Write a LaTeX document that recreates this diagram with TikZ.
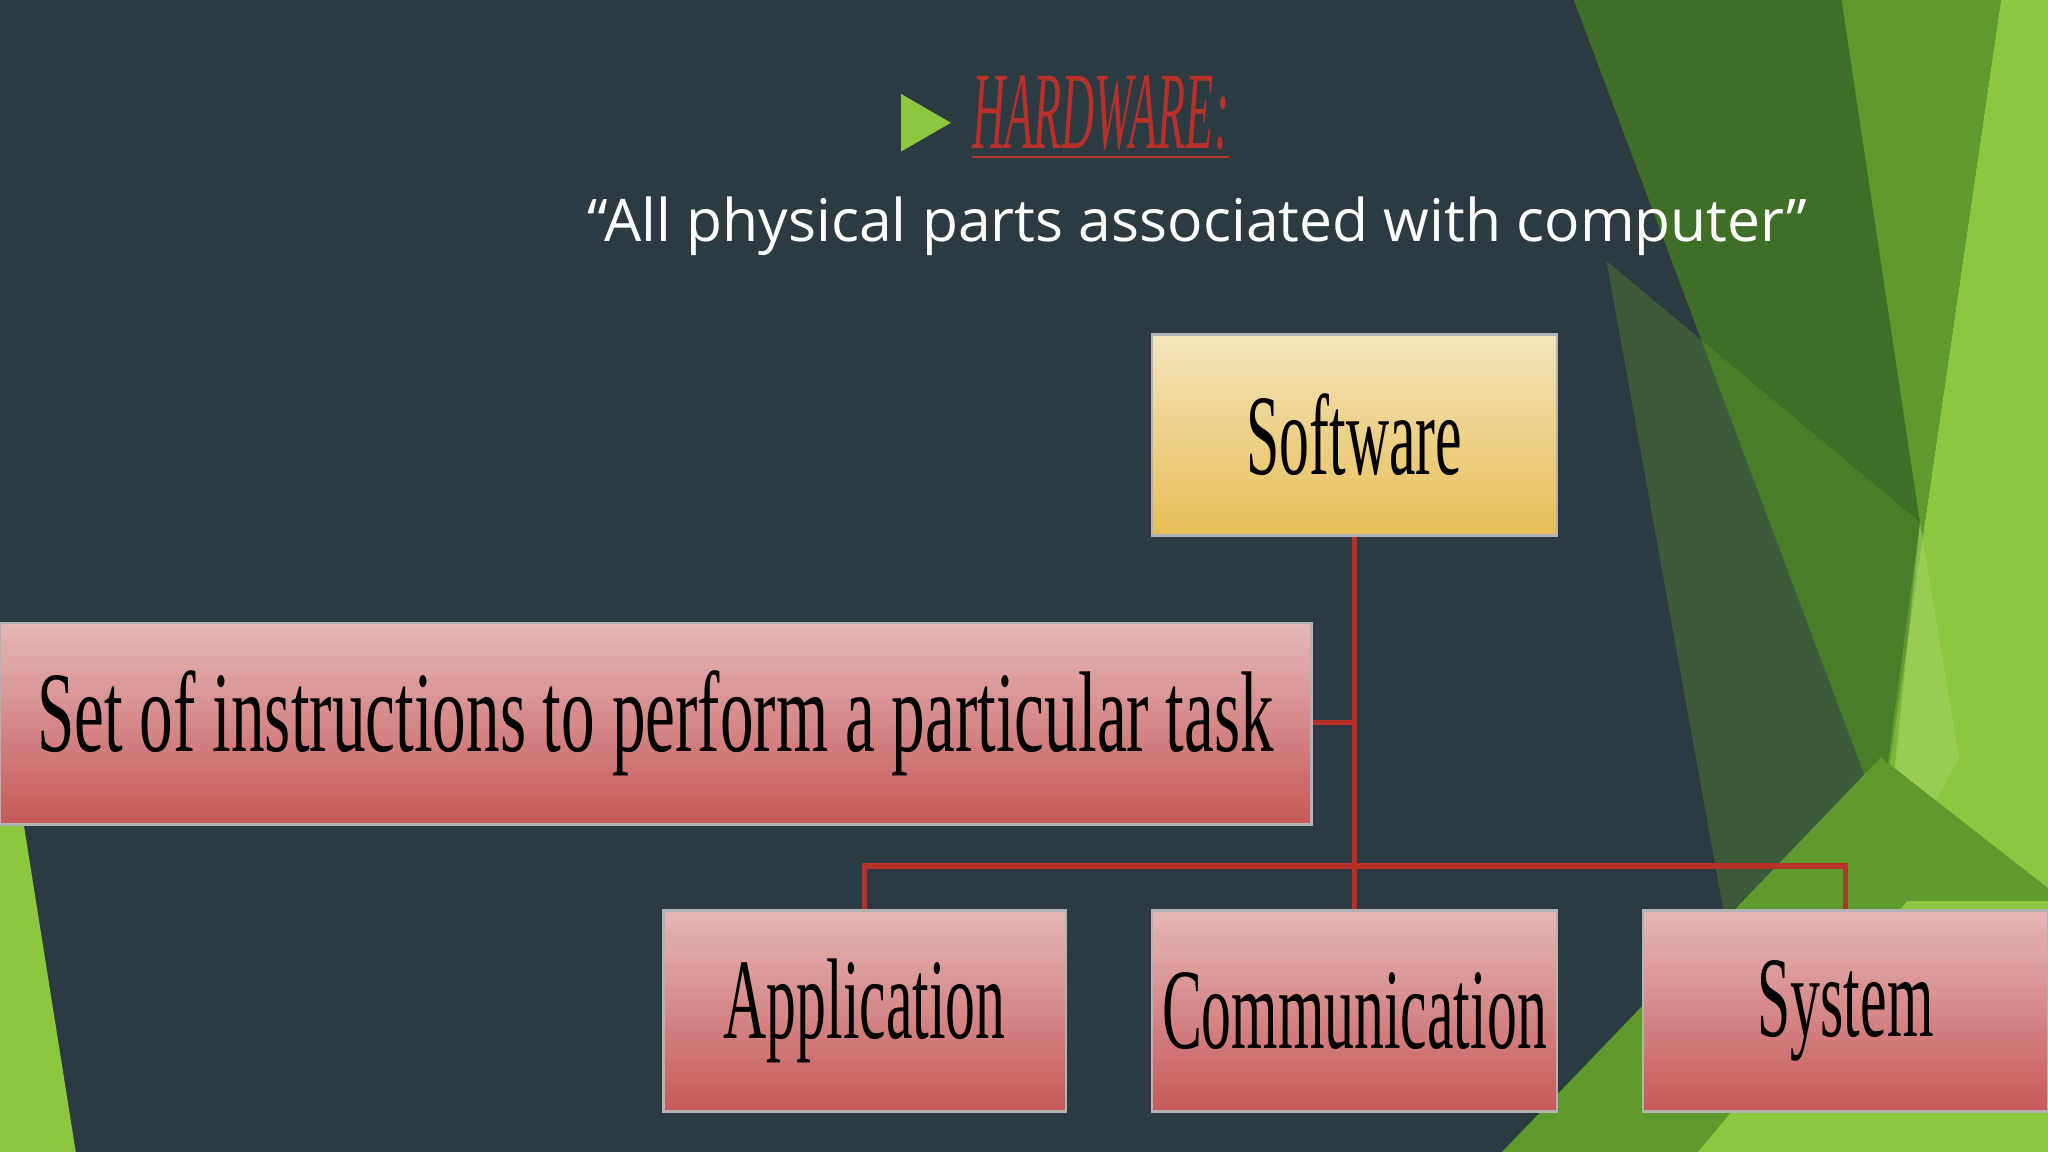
\documentclass[tikz,border=0pt]{standalone}
\usepackage{fontspec}
\setmainfont{Liberation Serif}
\newfontfamily\titlesans{Open Sans}
\usetikzlibrary{positioning}
\definecolor{bg}{HTML}{2C3A42}
\definecolor{dg}{HTML}{3F6E26}
\definecolor{mg}{HTML}{5E9A2E}
\definecolor{lg}{HTML}{8DC63F}
\definecolor{ln}{HTML}{B8302A}
\definecolor{pinkT}{HTML}{E6B8B8}
\definecolor{pinkB}{HTML}{C65858}
\definecolor{yelT}{HTML}{F3E4BA}
\definecolor{yelB}{HTML}{E8BE58}
\newcommand{\nt}[1]{\scalebox{0.52}[1]{#1}}
\tikzset{
  pbox/.style={draw=gray!60, line width=0.6pt, top color=pinkT, bottom color=pinkB, inner sep=0pt, minimum height=1.54cm, font=\fontsize{25}{28}\selectfont},
  ybox/.style={draw=gray!60, line width=0.6pt, top color=yelT, bottom color=yelB, inner sep=0pt, minimum height=1.54cm, font=\fontsize{25}{28}\selectfont},
  conn/.style={draw=ln, line width=1.2pt}
}
\begin{document}
\begin{tikzpicture}[x=0.01cm,y=-0.01cm]
\useasboundingbox (0,0) rectangle (1568,882);
\fill[bg] (0,0) rectangle (1568,882);
% green shapes
\fill[dg] (1205,0) -- (1415,0) -- (1470,400) -- (1445,640) -- cycle;
\fill[mg] (1410,0) -- (1532,0) -- (1430,700) -- (1470,400) -- cycle;
\fill[lg] (1532,0) -- (1568,0) -- (1568,882) -- (1430,882) -- (1430,700) -- cycle;
\fill[mg,opacity=0.35] (1230,200) -- (1470,400) -- (1445,660) -- (1320,700) -- cycle;
\fill[lg!80!white,opacity=0.6] (1470,400) -- (1500,580) -- (1440,690) -- cycle;
\fill[mg] (1150,882) -- (1440,580) -- (1568,680) -- (1568,882) -- cycle;
\fill[lg] (1300,882) -- (1460,690) -- (1568,690) -- (1568,882) -- cycle;
\fill[lg] (0,630) -- (18,630) -- (58,882) -- (0,882) -- cycle;
% title
\fill[lg] (690,72) -- (728,94) -- (690,116) -- cycle;
\node[anchor=west, text=ln, font=\itshape\fontsize{20}{22}\selectfont] (title) at (732,90) {\underline{\scalebox{0.5}[1.2]{HARDWARE:}}};
\node[text=white, font=\titlesans\fontsize{12.8}{15}\selectfont] (sub) at (917,173) {“All physical parts associated with computer”};
% boxes
\node[ybox, minimum width=3.10cm] (sw) at (1037,333) {\nt{Software}};
\node[pbox, minimum width=10.04cm] (def) at (502,554) {\scalebox{0.585}[1]{Set of instructions to perform a particular task}};
\node[pbox, minimum width=3.08cm] (app) at (662,774) {\nt{Application}};
\node[pbox, minimum width=3.10cm] (com) at (1037,774) {\nt{Communication}};
\node[pbox, minimum width=3.10cm] (sys) at (1413,774) {\nt{System}};
% connectors
\coordinate (j1) at (1037,553);
\coordinate (j2) at (1037,663);
\draw[conn] (sw.south) -- (com.north);
\draw[conn] (def.east |- j1) -- (j1);
\draw[conn] (app.north) -- (app.north |- j2) -- (sys.north |- j2) -- (sys.north);
\end{tikzpicture}
\end{document}
